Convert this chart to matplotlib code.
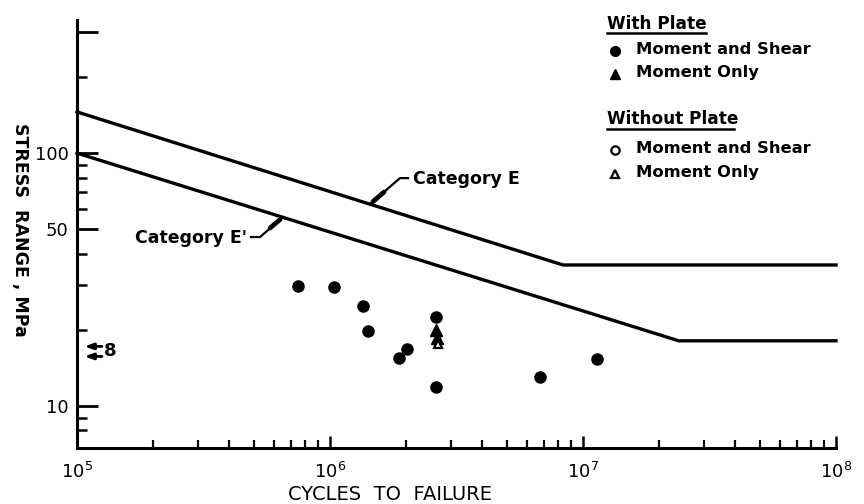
import matplotlib
matplotlib.use("Agg")
import matplotlib.pyplot as plt
from matplotlib.lines import Line2D
import numpy as np

# ---- data ----
# Category lines (N, stress range MPa): start, knee, end
cat_E_N = [1e5, 8.34e6, 1e8]
cat_E_S = [145.5, 36.1, 36.1]
cat_Ep_N = [1e5, 2.39e7, 1e8]
cat_Ep_S = [100.0, 18.1, 18.1]

# With plate, moment and shear (filled circles)
wp_ms_N = [7.5e5, 1.04e6, 1.35e6, 1.41e6, 1.88e6, 2.01e6, 2.62e6, 2.62e6, 6.76e6, 1.14e7]
wp_ms_S = [29.9, 29.6, 24.8, 19.8, 15.5, 16.8, 22.5, 11.9, 13.05, 15.3]
# With plate, moment only (filled triangles)
wp_mo_N = [2.63e6, 2.66e6]
wp_mo_S = [20.0, 18.6]
# Without plate, moment only (open triangles)
np_mo_N = [2.67e6]
np_mo_S = [17.6]

# runouts marked on the axis
runout_S = [17.2, 15.7]
runout_label = "8"

ytick_major = [10, 50, 100, 300]
ytick_labels = ["10", "50", "100", ""]
ytick_minor = [8, 9, 20, 30, 40, 60, 70, 80, 90, 200]
xtick_major = [1e5, 1e6, 1e7, 1e8]
xtick_labels = [r"$\mathregular{10^{5}}$", r"$\mathregular{10^{6}}$",
                r"$\mathregular{10^{7}}$", r"$\mathregular{10^{8}}$"]

plt.rcParams['font.family'] = ['DejaVu Sans']
fig = plt.figure(figsize=(8.64, 5.04), dpi=100)
ax = fig.add_axes([77/864, 1 - 448/504, (836-77)/864, (448-20)/504])
ax.set_xscale('log')
ax.set_yscale('log')
ax.set_xlim(1e5, 1e8)
ax.set_ylim(6.82, 336)

for s in ['top', 'right']:
    ax.spines[s].set_visible(False)
for s in ['left', 'bottom']:
    ax.spines[s].set_linewidth(2.2)

ax.set_yticks(ytick_major)
ax.set_yticklabels(ytick_labels)
ax.set_yticks(ytick_minor, minor=True)
ax.set_yticklabels([], minor=True)
ax.set_xticks(xtick_major)
ax.set_xticklabels(xtick_labels)
ax.tick_params(axis='y', which='major', direction='in', length=15, width=2, labelsize=13, pad=6)
ax.tick_params(axis='y', which='minor', direction='in', length=7, width=1.8)
ax.tick_params(axis='x', which='major', direction='in', length=9, width=1.8, labelsize=13, pad=10)
ax.tick_params(axis='x', which='minor', direction='in', length=6, width=1.6, labelbottom=False)

ax.plot(cat_E_N, cat_E_S, color='black', lw=2.4, solid_joinstyle='miter', clip_on=False)
ax.plot(cat_Ep_N, cat_Ep_S, color='black', lw=2.4, solid_joinstyle='miter', clip_on=False)

ax.plot(wp_ms_N, wp_ms_S, 'o', color='black', ms=8, ls='none')
ax.plot(wp_mo_N, wp_mo_S, '^', color='black', ms=8, ls='none')
ax.plot(np_mo_N, np_mo_S, '^', mfc='white', mec='black', mew=1.6, ms=6, ls='none')

# runout arrows
for s in runout_S:
    ax.annotate('', xy=(1.07e5, s), xytext=(1.255e5, s),
                arrowprops=dict(arrowstyle='-|>,head_length=0.5,head_width=0.18',
                                color='black', lw=2, shrinkA=0, shrinkB=0))
ax.text(1.28e5, (runout_S[0]*runout_S[1])**0.5, runout_label, fontsize=13,
        fontweight='bold', ha='left', va='center')

# label leaders (positions in pixel units -> axes data)
def pxd(px, py):
    return 10**(5 + (px - 77)/253), 10**(1 + (406 - py)/253)

def leader(pts, tip, tail):
    xs, ys = zip(*[pxd(*p) for p in pts])
    ax.plot(xs, ys, color='black', lw=1.6, clip_on=False, solid_joinstyle='miter')
    xs, ys = zip(*[pxd(*p) for p in (tip, tail)])
    ax.plot(xs, ys, color='black', lw=3.4, clip_on=False, solid_capstyle='round')

ax.text(*pxd(413, 179), 'Category E', fontsize=12.5, fontweight='bold', ha='left', va='center')
leader([(408, 178), (400, 178), (370, 204)], (373, 201.5), (384, 192))
ax.text(*pxd(135, 238), "Category E'", fontsize=12.5, fontweight='bold', ha='left', va='center')
leader([(251, 237), (260, 237), (283, 217)], (280, 219.5), (270, 228))

# axis labels
fig.text(390/864, 1 - 494/504, 'CYCLES  TO  FAILURE', fontsize=14, ha='center', va='center')
fig.text(20/864, 1 - 230/504, 'STRESS  RANGE , MPa', fontsize=12.5, fontweight='bold',
         rotation=270, ha='center', va='center')

# legend (manual)
def fx(px):
    return px / 864
def fy(py):
    return 1 - py / 504

fs_leg = 11.8
fig.text(fx(607), fy(24), 'With Plate', fontsize=12.2, fontweight='bold', ha='left', va='center')
fig.add_artist(Line2D([fx(607), fx(706)], [fy(33), fy(33)], color='black', lw=1.8))
fig.add_artist(Line2D([fx(615)], [fy(51)], marker='o', color='black', ms=7, ls='none'))
fig.text(fx(636), fy(49), 'Moment and Shear', fontsize=fs_leg, fontweight='bold', ha='left', va='center')
fig.add_artist(Line2D([fx(615)], [fy(74)], marker='^', color='black', ms=7, ls='none'))
fig.text(fx(636), fy(73), 'Moment Only', fontsize=fs_leg, fontweight='bold', ha='left', va='center')

fig.text(fx(607), fy(119), 'Without Plate', fontsize=12.2, fontweight='bold', ha='left', va='center')
fig.add_artist(Line2D([fx(607), fx(734)], [fy(129), fy(129)], color='black', lw=1.8))
fig.add_artist(Line2D([fx(615)], [fy(150)], marker='o', mfc='white', mec='black', mew=1.6, ms=6, ls='none'))
fig.text(fx(636), fy(148), 'Moment and Shear', fontsize=fs_leg, fontweight='bold', ha='left', va='center')
fig.add_artist(Line2D([fx(615)], [fy(174)], marker='^', mfc='white', mec='black', mew=1.6, ms=6, ls='none'))
fig.text(fx(636), fy(173), 'Moment Only', fontsize=fs_leg, fontweight='bold', ha='left', va='center')

fig.savefig('out.png', dpi=100)
